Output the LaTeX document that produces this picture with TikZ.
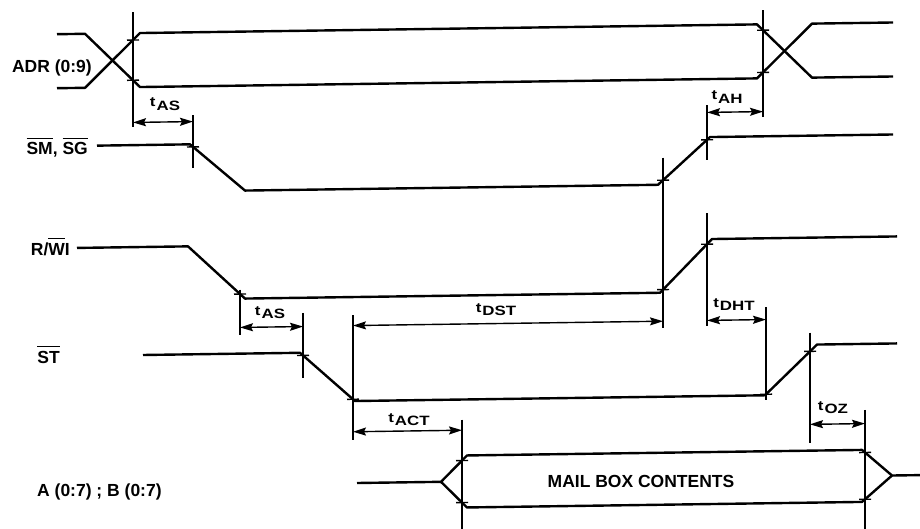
\documentclass[tikz,border=0pt]{standalone}
\usepackage{fontspec}
\setmainfont{Liberation Sans}
\newfontfamily\timfont[FakeStretch=1.25]{Liberation Sans}
\usepackage{tikz}
\usetikzlibrary{arrows.meta}
\newcommand{\ovl}[1]{\leavevmode\vbox{\hrule height 1.2pt\kern 4pt\hbox{#1}}}
\newcommand{\tsub}[1]{t\kern1pt\raisebox{-3.5pt}{#1}}
\begin{document}
\begin{tikzpicture}
[x=1pt, y=-1pt,
sig/.style ={line width=2.4pt, line join=round},
guide/.style ={line width=1.4pt},
tickmark/.style ={line width=1.4pt},
dimline/.style ={line width=1.4pt,
{Stealth[length=13pt,width=8pt,inset=2pt]}-{Stealth[length=13pt,width=8pt,inset=2pt]}},
sigtext/.style ={font=\bfseries\fontsize{17.5}{20}\selectfont, inner sep=0pt},
ttext/.style ={font=\timfont\bfseries\fontsize{13.5}{15}\selectfont, inner sep=0pt, anchor=base}]
\useasboundingbox (0,0) rectangle (920,529);
%signal names
\node [sigtext, anchor=base east]   (adr)  at (92, 73)     {ADR (0:9)};
\node [sigtext, anchor=base east]   (smsg) at (88, 155)    {\ovl{SM}, \ovl{SG}};
\node [sigtext, anchor=base east]   (rwi)  at (70, 255.5)  {R/\ovl{W}I};
\node [sigtext, anchor=base east]   (st)   at (60, 363)    {\ovl{ST}};
\node [sigtext, anchor=base west]   (ab)   at (37, 496)    {A (0:7) ; B (0:7)};
\node [sigtext, anchor=base]        (mbc)  at (641, 487)   {MAIL BOX CONTENTS};
%timing names
\node [ttext] (tas)  at (165, 107)   {\tsub{AS}};
\node [ttext] (tah)  at (727, 100)   {\tsub{AH}};
\node [ttext] (tasb) at (270, 315)   {\tsub{AS}};
\node [ttext] (tdst) at (496, 312)   {\tsub{DST}};
\node [ttext] (tdht) at (734, 307)   {\tsub{DHT}};
\node [ttext] (tact) at (409, 422)   {\tsub{ACT}};
\node [ttext] (toz)  at (833, 410)   {\tsub{OZ}};
\begin{scope}[yslant=0.014]
%waveforms
\draw [sig] (57,35) -- (85,35) -- (140,89) -- (757,89) -- (812,35) -- (893,35);
\draw [sig] (57,89) -- (85,89) -- (140,35) -- (757,35) -- (812,89) -- (893,89);
\draw [sig] (97,147) -- (190,147) -- (245,194) -- (658,194) -- (710,147) -- (893,147);
\draw [sig] (77,249) -- (188,249) -- (245,302) -- (660,302) -- (712,249) -- (897,249);
\draw [sig] (143,357) -- (300,357) -- (355,406) -- (765,406) -- (817,356) -- (897,356);
\draw [sig] (357,488) -- (441,488) -- (467,462) -- (862,462) -- (892,488) -- (920,488);
\draw [sig] (441,488) -- (467,514) -- (862,514) -- (892,488);
%guide lines
\foreach \x/\a/\b in {133/14/129, 763/21/128, 193/118/171, 707/115/170,
  663/167/337, 240/293/338, 707/223/336, 303/317/382, 353/320/445,
  766/318/411, 810/344/454, 462/426/536, 865/422/541}
  \draw [guide] (\x,\a) -- (\x,\b);
%crossings
\foreach \x/\y in {133/41.9, 133/82.1, 763/40.9, 763/83.1, 193/149.6,
  663/189.5, 707/149.7, 240/297.4, 663/298.9, 707/254.1, 303/359.7,
  353/404.2, 766/405, 810/362.7, 462/467, 462/509, 865/464.6, 865/511.4}
  \draw [tickmark] (\x,\y) ++(-6,0) -- ++(12,0);
%times
\draw [dimline] (133,124.3) -- (193,124.3);
\draw [dimline] (707,122.3) -- (763,122.3);
\draw [dimline] (240,330.8) -- (303,330.8);
\draw [dimline] (353,330.5) -- (663,330.5);
\draw [dimline] (707,330.3) -- (766,330.3);
\draw [dimline] (353,436.7) -- (462,436.7);
\draw [dimline] (810,435.7) -- (865,435.7);
\end{scope}
\end{tikzpicture}
\end{document}
